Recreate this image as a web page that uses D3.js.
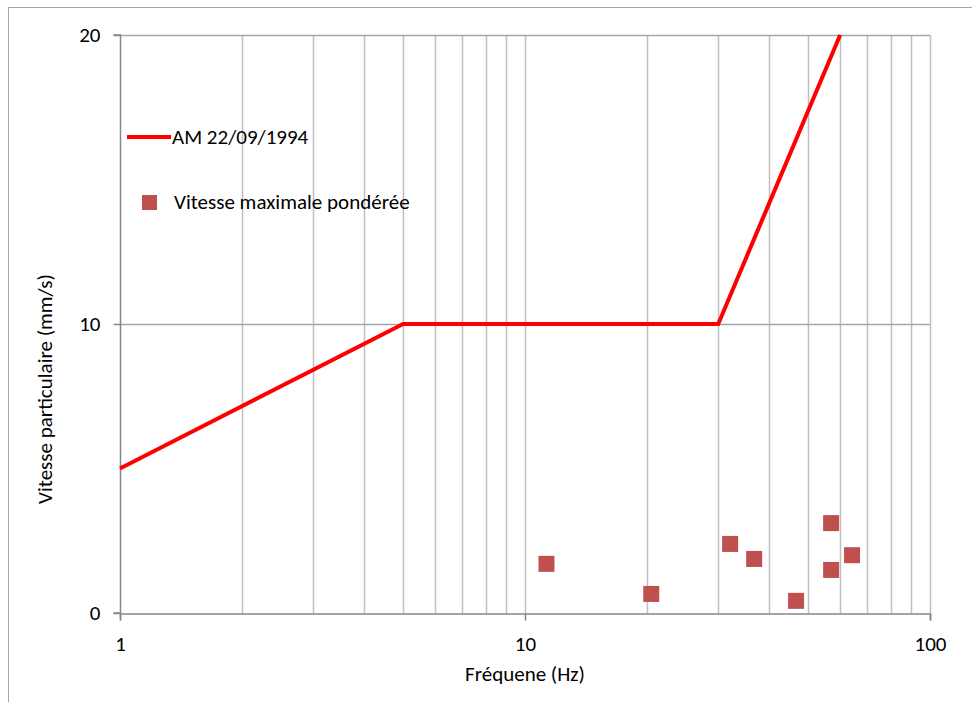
<!DOCTYPE html>
<html>
<head>
<meta charset="utf-8">
<script src="https://cdn.jsdelivr.net/npm/d3@7"></script>
<style>
  body { margin: 0; background: #fff; }
  text { font-family: Calibri, Carlito, "Open Sans", sans-serif; fill: #000; }
</style>
</head>
<body>
<div id="graph"></div>
<script>
// limite AM 22/09/1994
const limitFreq = [1, 5, 30, 60];
const limitSpeed = [5, 10, 10, 20];

// mesures
const pointFreq = [11.3, 20.5, 32.1, 36.8, 46.7, 57, 57, 64.2];
const pointSpeed = [1.7, 0.66, 2.39, 1.87, 0.42, 3.11, 1.49, 2.0];

const xTicks = [1, 10, 100];
const yTicks = [0, 10, 20];
const gridFreqs = [2, 3, 4, 5, 6, 7, 8, 9, 10, 20, 30, 40, 50, 60, 70, 80, 90, 100];

const width = 972, height = 702;
const plotLeft = 120, plotRight = 930, plotTop = 35, plotBottom = 613;
const fs = '21px';

const svg = d3.select('#graph').append('svg')
  .attr('width', width).attr('height', height);

// cadre extérieur
svg.append('rect')
  .attr('x', 8.5).attr('y', 7.5)
  .attr('width', 980).attr('height', 720)
  .attr('fill', 'none').attr('stroke', '#a6a6a6').attr('stroke-width', 1);

const x = d3.scaleLog().domain([1, 100]).range([plotLeft, plotRight]);
const y = d3.scaleLinear().domain([0, 20]).range([plotBottom, plotTop]);

// grille verticale
svg.append('g').selectAll('line').data(gridFreqs).enter().append('line')
  .attr('x1', d => Math.round(x(d)) + 0.5).attr('x2', d => Math.round(x(d)) + 0.5)
  .attr('y1', plotTop).attr('y2', plotBottom)
  .attr('stroke', '#bfbfbf').attr('stroke-width', 1.5);

// grille horizontale
svg.append('g').selectAll('line').data([10, 20]).enter().append('line')
  .attr('x1', plotLeft).attr('x2', plotRight)
  .attr('y1', d => Math.round(y(d)) + 0.5).attr('y2', d => Math.round(y(d)) + 0.5)
  .attr('stroke', '#a6a6a6').attr('stroke-width', 1.5);

// axes
const xAxis = d3.axisBottom(x).tickValues(xTicks).tickFormat(d3.format('d')).tickSize(7).tickPadding(16);
const yAxis = d3.axisLeft(y).tickValues(yTicks).tickSize(7).tickPadding(13);

const gx = svg.append('g').attr('transform', `translate(0,${plotBottom + 0.5})`).call(xAxis);
const gy = svg.append('g').attr('transform', `translate(${plotLeft + 0.5},0)`).call(yAxis);

[gx, gy].forEach(g => {
  g.select('.domain').attr('stroke', '#868686').attr('stroke-width', 1.5);
  g.selectAll('.tick line').attr('stroke', '#868686').attr('stroke-width', 1.5);
  g.selectAll('.tick text').style('font-size', fs)
    .style('font-family', 'Calibri, Carlito, "Open Sans", sans-serif').attr('fill', '#000');
});
gy.select('.domain').attr('d', `M-7,${plotBottom}H0V${plotTop}H-7`);

// courbe limite
const line = d3.line().x(d => x(d[0])).y(d => y(d[1]));
svg.append('path')
  .datum(d3.zip(limitFreq, limitSpeed))
  .attr('d', line)
  .attr('fill', 'none')
  .attr('stroke', '#ff0000')
  .attr('stroke-width', 4);

// points mesurés
const ms = 16;
svg.append('g').selectAll('rect').data(d3.zip(pointFreq, pointSpeed)).enter().append('rect')
  .attr('x', d => x(d[0]) - ms / 2)
  .attr('y', d => y(d[1]) - ms / 2)
  .attr('width', ms).attr('height', ms)
  .attr('fill', '#c0504d');

// titres d'axes
svg.append('text')
  .attr('x', (plotLeft + plotRight) / 2).attr('y', 681)
  .attr('text-anchor', 'middle')
  .style('font-size', fs)
  .text('Fréquene (Hz)');

svg.append('text')
  .attr('transform', 'translate(52,389) rotate(-90)')
  .attr('text-anchor', 'middle')
  .style('font-size', fs)
  .text('Vitesse particulaire (mm/s)');

// légende
const legend = svg.append('g');
legend.append('line')
  .attr('x1', 127).attr('x2', 171).attr('y1', 137).attr('y2', 137)
  .attr('stroke', '#ff0000').attr('stroke-width', 4);
legend.append('text').attr('x', 172).attr('y', 144)
  .style('font-size', fs).text('AM 22/09/1994');
legend.append('rect')
  .attr('x', 142).attr('y', 195).attr('width', 15).attr('height', 15)
  .attr('fill', '#c0504d');
legend.append('text').attr('x', 174).attr('y', 209)
  .style('font-size', fs).text('Vitesse maximale pondérée');
</script>
</body>
</html>
